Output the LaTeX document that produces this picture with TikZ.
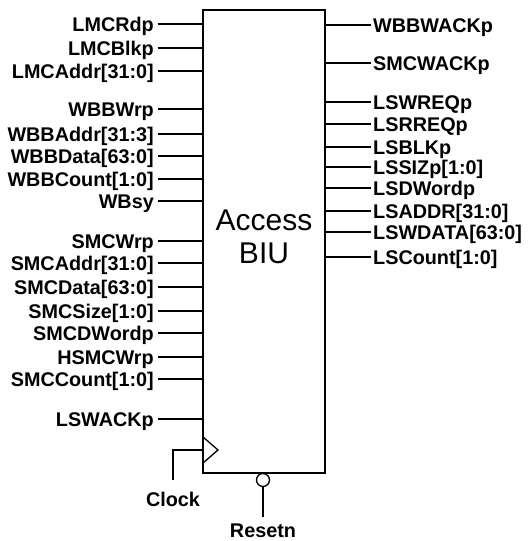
\documentclass[tikz,border=0pt]{standalone}
\usepackage{fontspec}
\setmainfont{Liberation Sans}
\begin{document}
\begin{tikzpicture}[x=1pt,y=-1pt,
  lab/.style={font=\bfseries\fontsize{19.8}{23}\selectfont, inner sep=0pt, text height=14.2pt, text depth=0pt},
  wire/.style={line width=1.3pt},
  ]
\useasboundingbox[fill=white] (0,0) rectangle (528,541);
\node[draw, line width=1.3pt, minimum width=122pt, minimum height=463pt, inner sep=0pt] (box) at (264,241.5) {};
\node[font=\fontsize{30}{33}\selectfont, align=center, inner sep=0pt] (title) at (264,237) {Access\\BIU};

\foreach \n/\y/\t in {L1/24/{LMCRdp}, L2/48/{LMCBlkp}, L3/71/{LMCAddr[31:0]},
  L4/109/{WBBWrp}, L5/134/{WBBAddr[31:3]}, L6/156/{WBBData[63:0]}, L7/179/{WBBCount[1:0]}, L8/201/{WBsy},
  L9/241/{SMCWrp}, L10/263/{SMCAddr[31:0]}, L11/287/{SMCData[63:0]}, L12/311/{SMCSize[1:0]},
  L13/333/{SMCDWordp}, L14/357/{HSMCWrp}, L15/379/{SMCCount[1:0]}, L16/419/{LSWACKp}} {
  \node[lab, anchor=east] (\n) at (154,\y) {\t};
  \draw[wire] ([xshift=4pt]\n.east) -- (\n.east -| box.west);
}

\foreach \n/\y/\t in {R1/25/{WBBWACKp}, R2/63/{SMCWACKp}, R3/102/{LSWREQp}, R4/124/{LSRREQp},
  R5/147/{LSBLKp}, R6/167/{LSSIZp[1:0]}, R7/188/{LSDWordp}, R8/211/{LSADDR[31:0]},
  R9/232/{LSWDATA[63:0]}, R10/257/{LSCount[1:0]}} {
  \node[lab, anchor=west] (\n) at (373,\y) {\t};
  \draw[wire] (\n.west -| box.east) -- ([xshift=-2pt]\n.west);
}

% clock input
\draw[wire] (203,437) -- (218,450) -- (203,463);
\coordinate (clkin) at (203,450);
\coordinate (clkend) at (173,480);
\draw[wire] (clkin) -| (clkend);
\node[lab, anchor=center] (clock) at (173,499) {Clock};

% reset input
\node[draw, circle, line width=1.3pt, minimum size=13pt, inner sep=0pt] (bub) at (263,480) {};
\coordinate (rstend) at (263,517);
\draw[wire] (bub.south) -- (rstend);
\node[lab, anchor=center] (resetn) at (263,530.5) {Resetn};
\end{tikzpicture}
\end{document}
